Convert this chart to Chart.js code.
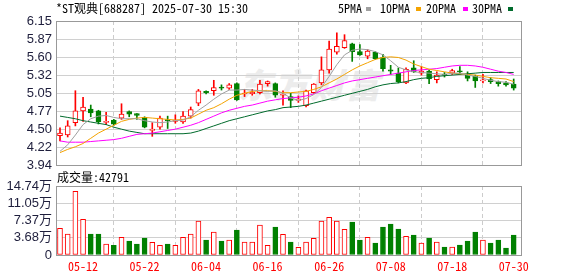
<!DOCTYPE html>
<html><head><meta charset="utf-8">
<script src="https://cdn.jsdelivr.net/npm/chart.js@4.4.1/dist/chart.umd.min.js"></script>
<style>
html,body{margin:0;padding:0;background:#fff;}
#wrap{position:relative;width:578px;height:276px;overflow:hidden;background:#fff;}
canvas{position:absolute;left:0;}
.t{position:absolute;font-family:"Noto Sans Mono CJK SC","Noto Sans CJK SC",monospace;font-size:12px;color:#000;white-space:nowrap;line-height:12px;}
.sq{position:absolute;width:5px;height:4px;top:7px;}
#wm{position:absolute;left:238px;top:64px;font-family:"Noto Sans CJK SC";font-weight:900;font-style:italic;font-size:34px;line-height:40px;color:#ececec;letter-spacing:2px;white-space:nowrap;}
</style></head><body>
<div id="wrap">
<div id="wm">东方财富</div>
<canvas id="pc" width="578" height="185" style="top:0"></canvas>
<canvas id="vc" width="578" height="106" style="top:170px"></canvas>
<div class="t" style="left:56px;top:2px">*ST观典[688287] 2025-07-30 15:30</div>
<div class="t" style="left:338px;top:2px">5PMA</div><div class="sq" style="left:366px;background:#a0a0a0"></div>
<div class="t" style="left:380px;top:2px">10PMA</div><div class="sq" style="left:416px;background:#f4a300"></div>
<div class="t" style="left:426px;top:2px">20PMA</div><div class="sq" style="left:463px;background:#ff00ff"></div>
<div class="t" style="left:472px;top:2px">30PMA</div><div class="sq" style="left:508px;background:#006b2c"></div>
<div class="t" style="left:57px;top:171px">成交量:42791</div>
</div>
<script>
const dates = ["05-07","05-08","05-09","05-12","05-13","05-14","05-15","05-16","05-19","05-20","05-21","05-22","05-23","05-26","05-27","05-28","05-29","05-30","06-03","06-04","06-05","06-06","06-09","06-10","06-11","06-12","06-13","06-16","06-17","06-18","06-19","06-20","06-23","06-24","06-25","06-26","06-27","06-30","07-01","07-02","07-03","07-04","07-07","07-08","07-09","07-10","07-11","07-14","07-15","07-16","07-17","07-18","07-21","07-22","07-23","07-24","07-25","07-28","07-29","07-30"];
const tickDates = ["05-12","05-22","06-04","06-16","06-26","07-08","07-18","07-30"];
const openP  = [4.39,4.40,4.59,4.77,4.80,4.77,4.595,4.63,4.66,4.76,4.73,4.67,4.47,4.52,4.63,4.61,4.60,4.69,4.89,5.07,5.08,5.13,5.12,5.19,5.03,5.03,5.05,5.19,5.19,5.01,4.99,4.93,4.85,5.05,5.20,5.40,5.67,5.74,5.80,5.68,5.61,5.67,5.59,5.40,5.35,5.20,5.43,5.35,5.38,5.25,5.33,5.35,5.38,5.33,5.30,5.23,5.25,5.22,5.20,5.18];
const highP  = [4.51,4.62,5.08,4.98,4.86,4.78,4.75,4.64,4.88,4.77,4.73,4.68,4.59,4.69,4.69,4.71,4.76,4.83,5.10,5.08,5.24,5.17,5.19,5.20,5.10,5.10,5.24,5.23,5.20,5.08,5.04,5.00,5.09,5.19,5.60,5.84,5.97,5.94,5.81,5.79,5.71,5.68,5.64,5.47,5.43,5.43,5.54,5.45,5.40,5.37,5.36,5.41,5.45,5.37,5.32,5.33,5.28,5.23,5.22,5.26];
const lowP   = [4.31,4.37,4.54,4.61,4.68,4.57,4.56,4.55,4.64,4.68,4.64,4.51,4.38,4.49,4.50,4.58,4.58,4.66,4.85,5.03,5.01,5.09,5.10,4.93,4.99,5.01,5.03,5.15,4.98,4.86,4.82,4.90,4.83,5.04,5.17,5.35,5.64,5.73,5.53,5.62,5.57,5.56,5.38,5.33,5.20,5.19,5.36,5.32,5.19,5.20,5.29,5.33,5.33,5.23,5.13,5.20,5.19,5.15,5.15,5.09];
const closeP = [4.43,4.54,4.77,4.83,4.74,4.60,4.61,4.565,4.72,4.72,4.70,4.52,4.49,4.66,4.62,4.63,4.69,4.79,5.08,5.05,5.13,5.12,5.17,4.94,5.04,5.06,5.18,5.22,5.01,5.02,4.93,4.95,5.08,5.18,5.40,5.72,5.76,5.85,5.68,5.63,5.69,5.57,5.42,5.38,5.22,5.41,5.37,5.38,5.26,5.32,5.32,5.39,5.37,5.27,5.23,5.24,5.22,5.19,5.17,5.12];
const ma5  = [4.15,4.25,4.40,4.56,4.65,4.69,4.70,4.67,4.65,4.65,4.65,4.62,4.60,4.59,4.60,4.62,4.63,4.68,4.78,4.86,4.95,5.03,5.09,5.09,5.10,5.09,5.08,5.07,5.08,5.04,4.97,4.93,4.96,5.02,5.13,5.30,5.48,5.63,5.70,5.72,5.71,5.68,5.63,5.54,5.44,5.40,5.37,5.36,5.35,5.34,5.33,5.35,5.35,5.32,5.30,5.27,5.24,5.22,5.21,5.18];
const ma10 = [4.13,4.18,4.22,4.27,4.35,4.43,4.49,4.55,4.61,4.64,4.66,4.67,4.66,4.65,4.64,4.63,4.64,4.66,4.72,4.78,4.82,4.88,4.95,5.01,5.04,5.07,5.08,5.08,5.07,5.05,5.05,5.06,5.07,5.10,5.14,5.20,5.26,5.33,5.40,5.46,5.51,5.56,5.59,5.60,5.59,5.55,5.49,5.45,5.41,5.39,5.37,5.35,5.34,5.33,5.32,5.30,5.28,5.27,5.26,5.22];
const ma20 = [4.31,4.29,4.29,4.29,4.30,4.31,4.32,4.33,4.35,4.38,4.41,4.42,4.43,4.45,4.47,4.49,4.52,4.55,4.59,4.64,4.69,4.74,4.78,4.81,4.84,4.86,4.89,4.92,4.94,4.96,4.97,4.98,5.00,5.03,5.08,5.12,5.16,5.20,5.23,5.25,5.27,5.29,5.31,5.33,5.35,5.37,5.39,5.40,5.41,5.42,5.44,5.46,5.47,5.47,5.46,5.44,5.41,5.38,5.36,5.33];
const ma30 = [4.69,4.67,4.65,4.62,4.60,4.58,4.56,4.52,4.49,4.46,4.44,4.42,4.42,4.42,4.42,4.42,4.42,4.43,4.46,4.50,4.54,4.58,4.62,4.65,4.68,4.71,4.74,4.77,4.79,4.82,4.83,4.84,4.86,4.89,4.92,4.95,4.98,5.01,5.04,5.07,5.10,5.14,5.17,5.19,5.20,5.22,5.25,5.27,5.28,5.30,5.31,5.32,5.33,5.34,5.35,5.36,5.36,5.36,5.36,5.36];
const volume = [5.70,4.49,13.6,7.62,4.49,4.49,2.35,2.07,3.78,2.99,2.35,3.63,2.71,2.07,2.35,2.07,3.78,4.49,7.26,3.20,4.91,2.99,3.20,5.34,2.78,2.78,6.41,2.07,5.98,4.42,2.78,1.64,2.78,3.56,7.26,8.05,7.26,5.48,7.05,3.20,3.78,2.56,5.98,6.62,5.55,3.99,4.27,2.56,3.63,2.78,1.71,1.71,2.14,2.99,4.91,3.20,2.56,3.20,1.50,4.2791];
const priceTicks = ["3.94","4.22","4.50","4.77","5.05","5.32","5.60","5.87","6.15"];
const priceMin = 3.94, priceMax = 6.15;
const volTicks = ["0","3.68万","7.37万","11.05万","14.74万"];
const volMax = 14.74;

const UP = '#ff0000', DN = '#008000';
const idx = dates.map((d,i)=>i);
const isUp = idx.map(i => closeP[i] >= openP[i]);
const col = idx.map(i => isUp[i] ? UP : DN);
const fill = idx.map(i => isUp[i] ? '#ffffff' : DN);
const XMIN = -0.52, XMAX = 60.08;

const frame = {
  id:'frame',
  afterDraw(chart){
    const {ctx, chartArea:a} = chart;
    ctx.save();
    ctx.strokeStyle = '#999999'; ctx.lineWidth = 1;
    ctx.strokeRect(Math.round(a.left)+0.5, Math.round(a.top)+0.5, Math.round(a.right-a.left)-1, Math.round(a.bottom-a.top));
    ctx.restore();
  }
};
const xTicks = s => { s.ticks = tickDates.map(d => ({value: dates.indexOf(d)})); };
const lineDs = (arr, c) => ({type:'line', data: idx.map(i=>({x:i, y:arr[i]})), borderColor:c, borderWidth:1, pointRadius:0, tension:0, order:0});

new Chart(document.getElementById('pc'), {
  type:'bar',
  data:{datasets:[
    lineDs(ma5,'#a0a0a0'), lineDs(ma10,'#f4a300'), lineDs(ma20,'#ff00ff'), lineDs(ma30,'#006b2c'),
    {type:'bar', data: idx.map(i=>({x:i, y:[openP[i], closeP[i]]})), backgroundColor: fill, borderColor: col, borderWidth:1, borderSkipped:false, barThickness:5, minBarLength:1, grouped:false, order:1},
    {type:'bar', data: idx.map(i=>({x:i, y:[lowP[i], highP[i]]})), backgroundColor: col, barThickness:1, grouped:false, order:2}
  ]},
  options:{
    responsive:false, animation:false, events:[],
    plugins:{legend:{display:false}, tooltip:{enabled:false}},
    layout:{padding:{left:0,right:56,top:21,bottom:20}},
    scales:{
      x:{type:'linear', min:XMIN, max:XMAX, offset:false, afterFit(s){s.height=0;}, afterBuildTicks: xTicks,
         ticks:{display:false, autoSkip:false}, grid:{color:'#cccccc', drawTicks:false}, border:{display:false, dash:[4,3]}},
      y:{type:'linear', min:priceMin, max:priceMax, afterFit(s){s.width=56;},
         afterBuildTicks(s){ s.ticks = priceTicks.map((t,k)=>({value: priceMin + k*(priceMax-priceMin)/8})); },
         ticks:{autoSkip:false, callback:(v,k)=>priceTicks[k], font:{family:'Liberation Sans', size:13}, color:'#1e1e3c', padding:4},
         grid:{color:'#d0d0d0', drawTicks:false}, border:{display:false}}
    }
  },
  plugins:[frame]
});

new Chart(document.getElementById('vc'), {
  type:'bar',
  data:{datasets:[
    {data: idx.map(i=>({x:i, y:volume[i]})), backgroundColor: fill, borderColor: col, borderWidth:1, borderSkipped:false, barThickness:5, grouped:false}
  ]},
  options:{
    responsive:false, animation:false, events:[],
    plugins:{legend:{display:false}, tooltip:{enabled:false}},
    layout:{padding:{left:0,right:56,top:16,bottom:0}},
    scales:{
      x:{type:'linear', min:XMIN, max:XMAX, offset:false, afterFit(s){s.height=21;}, afterBuildTicks: xTicks,
         ticks:{callback:(v)=>dates[v], autoSkip:false, maxRotation:0, color:'#ff0000', padding:4,
                font:{family:'"Noto Sans Mono CJK SC", monospace', size:12}},
         grid:{color:'#cccccc', drawTicks:false}, border:{display:false, dash:[4,3]}},
      y:{type:'linear', min:0, max:volMax, afterFit(s){s.width=56;},
         afterBuildTicks(s){ s.ticks = volTicks.map((t,k)=>({value: k*volMax/4})); },
         ticks:{autoSkip:false, callback:(v,k)=>volTicks[k], font:{family:'"Liberation Sans","Noto Sans CJK SC"', size:13}, color:'#1e1e3c', padding:4},
         grid:{color:'#d0d0d0', drawTicks:false}, border:{display:false}}
    }
  },
  plugins:[frame]
});
</script>
</body></html>
